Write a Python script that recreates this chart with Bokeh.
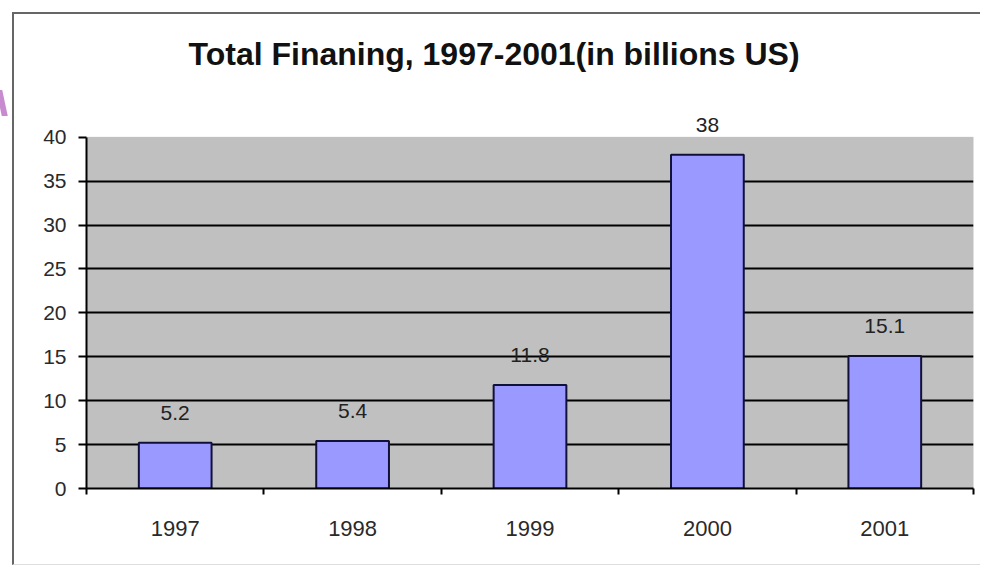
from bokeh.plotting import figure
from bokeh.models import (Range1d, FixedTicker, ColumnDataSource, Label,
                          BoxAnnotation, LabelSet, InlineStyleSheet)
from bokeh.embed import file_html
from bokeh.resources import INLINE
from bokeh.core.properties import value

# ---- data ----
years = ["1997", "1998", "1999", "2000", "2001"]
financing = [5.2, 5.4, 11.8, 38, 15.1]
value_labels = ["5.2", "5.4", "11.8", "38", "15.1"]
y_ticks = [0, 5, 10, 15, 20, 25, 30, 35, 40]
title_text = "Total Finaning, 1997-2001(in billions US)"

FONT = "Liberation Sans"

xpos = [i + 0.5 for i in range(len(years))]
bounds = [i for i in range(len(years) + 1)]
src = ColumnDataSource(dict(x=xpos, top=financing, label=value_labels))

y_top = y_ticks[-1]
# frame extends above the plot area so the title and value labels are not clipped
y_max = y_top + 123 / 8.8

css = InlineStyleSheet(css="""
:host { position: relative; }
:host::before {
  content: ''; position: absolute; left: -15px; top: 76px;
  width: 6px; height: 26px; background: #C98BD0; transform: skewX(12deg);
}
""")

p = figure(width=968, height=553,
           x_range=Range1d(0, len(years)), y_range=Range1d(0, y_max),
           output_backend="svg", toolbar_location=None,
           min_border_left=72, min_border_right=9,
           min_border_top=0, min_border_bottom=79,
           stylesheets=[css])
p.styles = {"margin-left": "12px", "margin-top": "12px",
            "border-left": "2px solid #666666", "border-top": "2px solid #666666",
            "border-bottom": "1px solid #dddddd"}
p.background_fill_color = "white"
p.border_fill_color = "white"
p.outline_line_color = None

# grey plot area
p.add_layout(BoxAnnotation(left=0, right=len(years), bottom=0, top=y_top,
                           fill_color="#C0C0C0", fill_alpha=1,
                           line_color="#8c8c8c", line_width=1, level="image"))

p.xgrid.visible = False
p.ygrid.ticker = FixedTicker(ticks=y_ticks[1:-1])
p.ygrid.grid_line_color = "black"
p.ygrid.grid_line_width = 2

p.vbar(x="x", top="top", bottom=0, width=0.41, source=src,
       fill_color="#9999FF", line_color="#10103a", line_width=2)

labels = LabelSet(x="x", y="top", text="label", source=src, y_offset=30,
                  text_align="center", text_baseline="middle",
                  text_font=value(FONT), text_font_size="21px",
                  text_color="#222222", level="overlay")
p.add_layout(labels)

# y axis
ya = p.yaxis[0]
ya.ticker = FixedTicker(ticks=y_ticks)
ya.bounds = (0, y_top)
ya.major_tick_out = 8
ya.major_tick_in = 0
ya.minor_tick_out = 0
ya.minor_tick_in = 0
ya.axis_line_color = "black"
ya.axis_line_width = 2
ya.major_tick_line_color = "black"
ya.major_tick_line_width = 2
ya.major_label_text_font = FONT
ya.major_label_text_font_size = "21px"
ya.major_label_text_color = "#2a2a2a"
ya.major_label_standoff = 12

# x axis
xa = p.xaxis[0]
xa.ticker = FixedTicker(ticks=xpos, minor_ticks=bounds)
xa.major_label_overrides = {x: y for x, y in zip(xpos, years)}
xa.major_tick_out = 0
xa.major_tick_in = 0
xa.minor_tick_out = 6
xa.minor_tick_in = 0
xa.minor_tick_line_color = "black"
xa.minor_tick_line_width = 2
xa.axis_line_color = "black"
xa.axis_line_width = 2
xa.major_label_text_font = FONT
xa.major_label_text_font_size = "22px"
xa.major_label_text_color = "#2a2a2a"
xa.major_label_standoff = 26

# title
p.add_layout(Label(x=172, y=37, x_units="canvas", y_units="canvas",
                   text=title_text, text_font=FONT, text_font_style="bold",
                   text_font_size="32px", text_color="#111111",
                   text_baseline="alphabetic", text_align="left",
                   level="overlay"))

open("out.html", "w").write(file_html(p, INLINE))
